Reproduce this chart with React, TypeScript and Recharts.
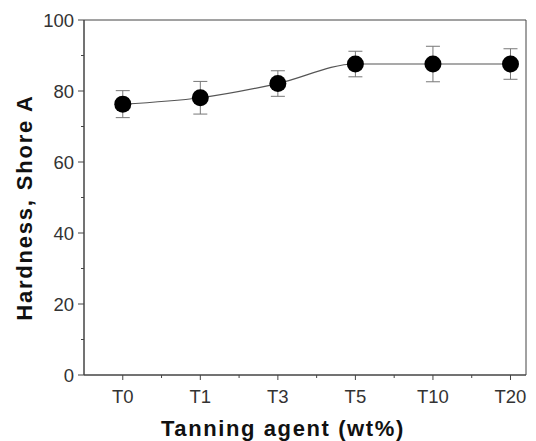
import React from 'react'
import { ComposedChart, Line, XAxis, YAxis, ErrorBar, ReferenceArea, Label } from 'recharts'

const categories = ['T0', 'T1', 'T3', 'T5', 'T10', 'T20']
const hardness = [76.3, 78.1, 82.1, 87.6, 87.6, 87.6]
const hardnessErr = [3.8, 4.6, 3.6, 3.6, 5.0, 4.3]
const yMajor = [0, 20, 40, 60, 80, 100]
const yMinor = [10, 30, 50, 70, 90]
const xMinor = [0.5, 1.5, 2.5, 3.5, 4.5]

const data = categories.map((c, i) => ({ x: i, name: c, y: hardness[i], err: hardnessErr[i] }))

const FONT = '"Liberation Sans", Arial, sans-serif'
const AXIS = '#444'

const YTick = (props: any) => {
    const { x, y, payload } = props
    const major = yMajor.includes(payload.value)
    return (
        <g>
            <line x1={x - (major ? 6 : 3)} x2={x} y1={y} y2={y} stroke={AXIS} strokeWidth={1} />
            {major && (
                <text x={x - 10} y={y + 6.5} textAnchor='end' fontSize={18.5} fontFamily={FONT} fill='#333'>
                    {payload.value}
                </text>
            )}
        </g>
    )
}

const XTick = (props: any) => {
    const { x, y, payload } = props
    const major = Number.isInteger(payload.value)
    return (
        <g>
            <line x1={x} x2={x} y1={y} y2={y + (major ? 5 : 3)} stroke={AXIS} strokeWidth={1} />
            {major && (
                <text x={x} y={y + 28} textAnchor='middle' fontSize={18.5} fontFamily={FONT} fill='#333'>
                    {categories[payload.value]}
                </text>
            )}
        </g>
    )
}

function App() {
    return (
        <div style={{ position: 'absolute', left: 0, top: 0, background: '#fff' }}>
            <ComposedChart width={536} height={441} data={data}
                margin={{ top: 20, right: 10, left: 0, bottom: 0 }}>
                <XAxis dataKey='x' type='number' domain={[-0.5, 5.2]} allowDataOverflow
                    ticks={[0, 1, 2, 3, 4, 5, ...xMinor]} interval={0}
                    height={66} tickSize={0} tickMargin={0} tickLine={false}
                    stroke={AXIS} tick={<XTick />}>
                    <Label content={(p: any) => {
                        const vb = p.viewBox
                        return (
                            <text x={vb.x + vb.width * 0.45} y={436} textAnchor='middle' fontSize={22}
                                fontWeight='bold' fontFamily={FONT} fill='#111' letterSpacing={1.6}>
                                Tanning agent (wt%)
                            </text>
                        )
                    }} />
                </XAxis>
                <YAxis type='number' domain={[0, 100]} ticks={[...yMajor, ...yMinor]} interval={0}
                    width={84} tickSize={0} tickMargin={0} tickLine={false}
                    stroke={AXIS} tick={<YTick />}>
                    <Label content={(p: any) => {
                        const vb = p.viewBox
                        const cy = vb.y + vb.height / 2 + 10
                        return (
                            <text x={32} y={cy} transform={`rotate(-90 32 ${cy})`} textAnchor='middle' fontSize={22}
                                fontWeight='bold' fontFamily={FONT} fill='#111' letterSpacing={1.8}>
                                Hardness, Shore A
                            </text>
                        )
                    }} />
                </YAxis>
                <ReferenceArea x1={-0.5} x2={5.2} y1={0} y2={100} fill='none' stroke={AXIS} strokeWidth={1} />
                <Line type='monotone' dataKey='y' stroke='#555' strokeWidth={1.2}
                    dot={{ r: 8.5, fill: '#000', stroke: '#000', strokeWidth: 0 }}
                    activeDot={false} isAnimationActive={false}>
                    <ErrorBar dataKey='err' direction='y' width={7} stroke='#777' strokeWidth={1} />
                </Line>
            </ComposedChart>
        </div>
    )
}

export default App
